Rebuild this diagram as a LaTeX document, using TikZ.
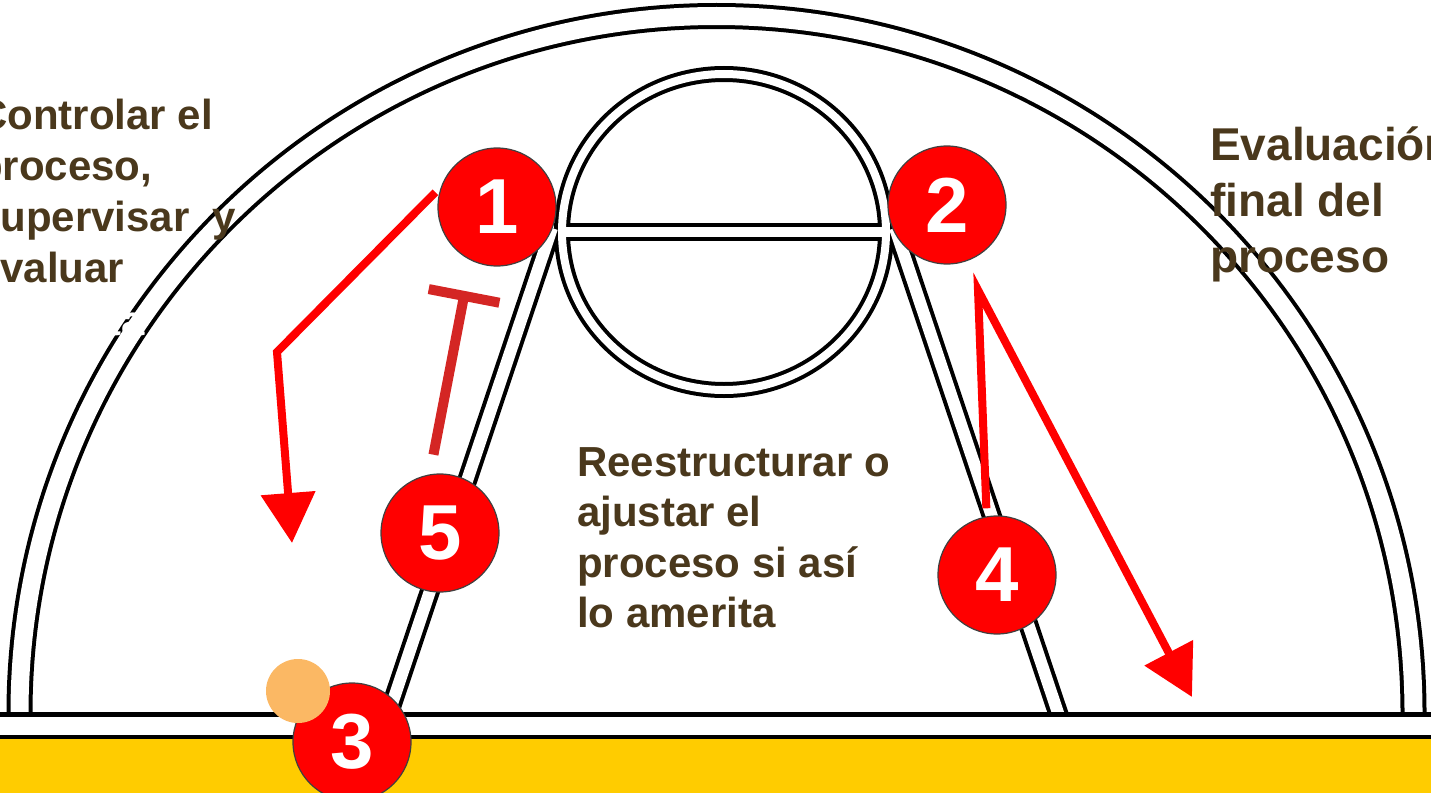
\documentclass[tikz,border=0pt]{standalone}
\usepackage{fontspec}
\setmainfont{Liberation Sans}
\usetikzlibrary{arrows.meta, calc}
\definecolor{textbrown}{RGB}{74,56,28}
\definecolor{courtyellow}{RGB}{255,204,0}
\definecolor{ballorange}{RGB}{251,184,100}
\definecolor{screenred}{RGB}{212,38,36}

\begin{document}
\begin{tikzpicture}[
    x=1pt, y=-1pt,
    spot/.style={circle, draw=black!75, line width=1.2pt, fill=red, text=white, minimum size=118pt, inner sep=0pt, font=\fontsize{78}{78}\selectfont\bfseries},
    ball/.style={circle, fill=ballorange, minimum size=64pt, inner sep=0pt},
    courttext/.style={text=textbrown, inner sep=0pt, align=left, anchor=north west},
    playarrow/.style={red, line width=8pt, line join=miter, -{Triangle[width=53pt, length=50pt]}},
    screenbar/.style={screenred, line width=10pt, -{Bar[width=72pt]}},
]
\useasboundingbox (0,0) rectangle (1431,792);
\clip (0,0) rectangle (1431,792);

% Court lines: black pass, then white pass
\foreach \col/\wa/\wr/\wl/\wf in {black/26/16/20/18, white/18/8/12/10} {
    \draw[\col, line width=\wa pt] (716.5,713) circle[radius=697];
    \draw[\col, line width=\wr pt] (724,232) ellipse[x radius=162, y radius=158];
    \draw[\col, line width=\wf pt] (562,232) -- (886,232);
    \draw[\col, line width=\wl pt] (386.6,720) -- (552,228);
    \draw[\col, line width=\wl pt] (1060.4,720) -- (895,228);
}

% Baseline and floor
\fill[white] (-10,714) rectangle (1441,737);
\fill[courtyellow] (-10,737) rectangle (1441,810);
\draw[line width=5pt] (-10,714) -- (1441,714);
\draw[line width=4pt] (-10,737) -- (1441,737);

% Texts
\node[courttext, font=\fontsize{42}{51}\selectfont\bfseries] (control) at (-23,99)
    {Controlar el\\proceso,\\supervisar\ \ y\\evaluar};
\node[courttext, font=\fontsize{46}{56}\selectfont\bfseries] (final) at (1210,127)
    {Evaluación\\final del\\proceso};
\node[courttext, font=\fontsize{42}{50.5}\selectfont\bfseries] (ajuste) at (577,447)
    {Reestructurar o\\ajustar el\\proceso si así\\lo amerita};
\node[text=white, inner sep=0pt, anchor=base west, font=\fontsize{42}{42}\selectfont\bfseries] (hidden) at (107,335) {ta};

% Numbered spots
\node[spot] (n1) at (497,207) {1};
\node[spot] (n2) at (947,205) {2};
\node[spot] (n3) at (352,742) {3};
\node[spot] (n4) at (997,575) {4};
\node[spot] (n5) at (440,533) {5};
\node[ball] (ball) at (298,691) {};

% Movements
\coordinate (bendA) at (277,352);
\coordinate (tipA) at (292,543);
\coordinate (peakB) at (978,290);
\coordinate (tipB) at (1192,697);
\coordinate (barT) at (465,291);

\draw[playarrow, shorten <=8pt] (n1.160) -- (bendA) -- (tipA);
\draw[playarrow, shorten <=8pt] (n4.100) -- (peakB) -- (tipB);
\draw[screenbar, shorten <=20pt] (n5.100) -- (barT);

\end{tikzpicture}
\end{document}
